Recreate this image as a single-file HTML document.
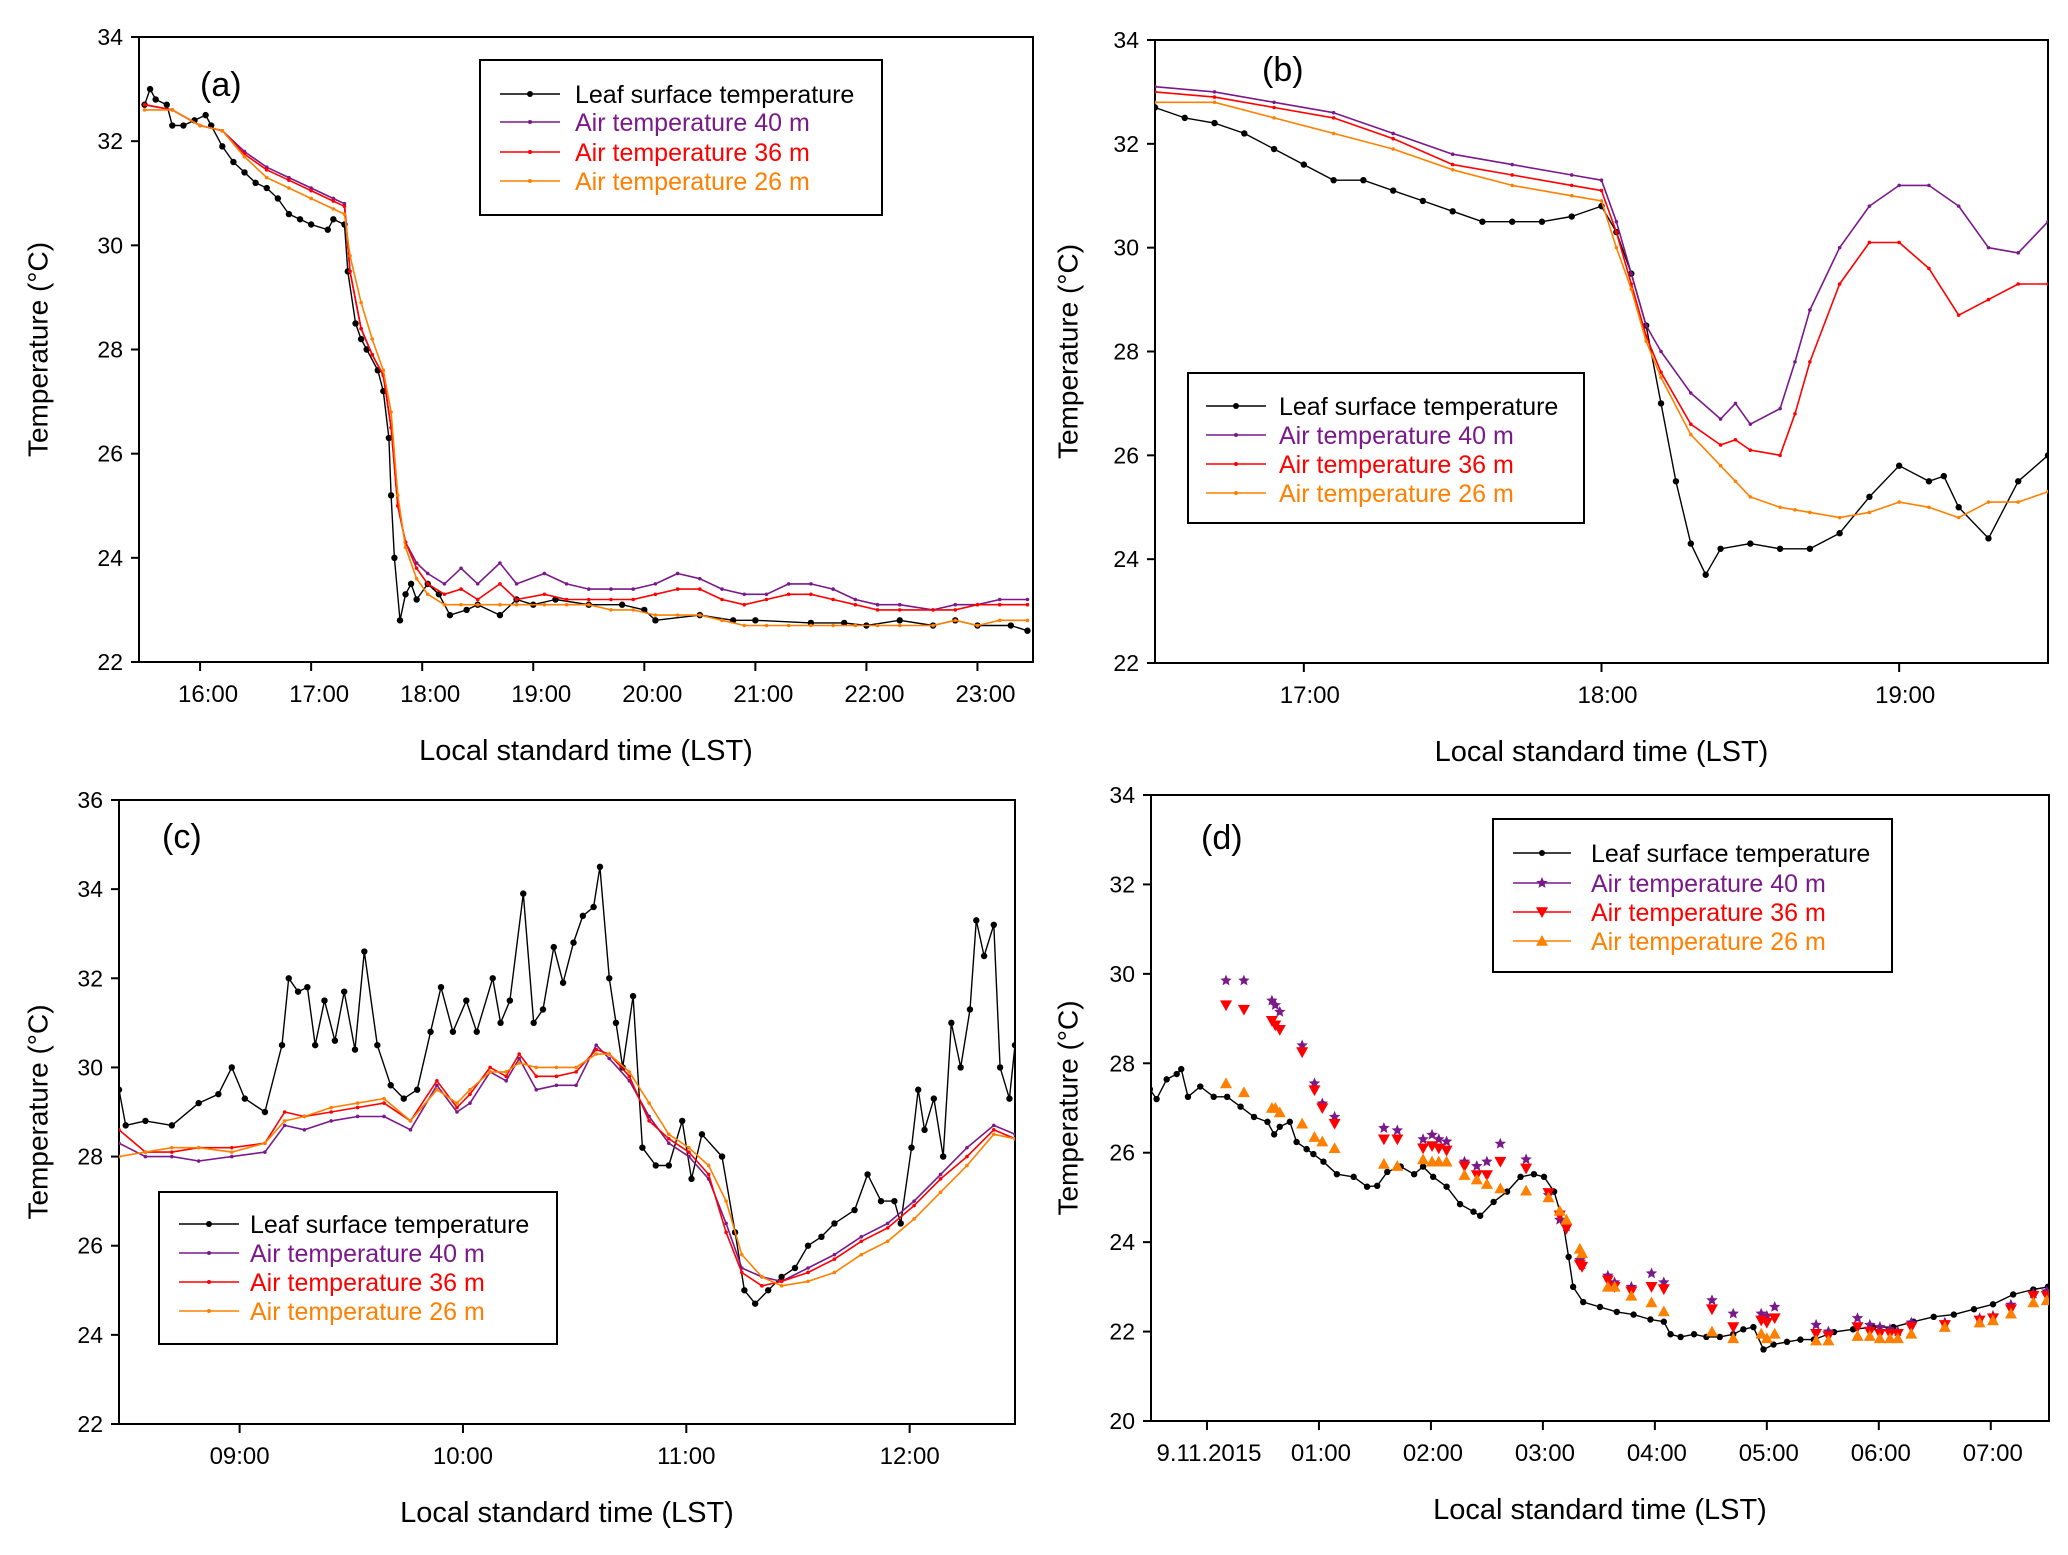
<!DOCTYPE html>
<html><head><meta charset="utf-8"><style>
html,body{margin:0;padding:0;background:#fff;}
svg{display:block;font-family:"Liberation Sans",Arial,sans-serif;}
</style></head><body>
<svg id="fig" width="2068" height="1555" viewBox="0 0 2068 1555" xmlns="http://www.w3.org/2000/svg"></svg>
<script>
// ---------- Panel (a) data (hours) ----------
const aLeafT=[15.5,15.55,15.6,15.7,15.75,15.85,15.95,16.05,16.1,16.2,16.3,16.4,16.5,16.6,16.7,16.8,16.9,17.0,17.15,17.2,17.3,17.33,17.4,17.45,17.5,17.6,17.65,17.7,17.72,17.75,17.8,17.85,17.9,17.95,18.05,18.15,18.25,18.4,18.5,18.7,18.85,19.0,19.2,19.5,19.8,20.0,20.1,20.5,20.8,21.0,21.5,21.8,22.0,22.3,22.6,22.8,23.0,23.3,23.45];
const aLeafV=[32.7,33.0,32.8,32.7,32.3,32.3,32.4,32.5,32.3,31.9,31.6,31.4,31.2,31.1,30.9,30.6,30.5,30.4,30.3,30.5,30.4,29.5,28.5,28.2,28.0,27.6,27.2,26.3,25.2,24.0,22.8,23.3,23.5,23.2,23.5,23.3,22.9,23.0,23.1,22.9,23.2,23.1,23.2,23.1,23.1,23.0,22.8,22.9,22.8,22.8,22.75,22.75,22.7,22.8,22.7,22.8,22.7,22.7,22.6];
const aAirT=[15.5,15.75,16.0,16.2,16.4,16.6,16.8,17.0,17.2,17.3,17.35,17.45,17.55,17.65,17.72,17.78,17.85,17.95,18.05,18.2,18.35,18.5,18.7,18.85,19.1,19.3,19.5,19.7,19.9,20.1,20.3,20.5,20.7,20.9,21.1,21.3,21.5,21.7,21.9,22.1,22.3,22.6,22.8,23.0,23.2,23.45];
const aAir40=[32.7,32.6,32.3,32.2,31.8,31.5,31.3,31.1,30.9,30.8,29.5,28.4,27.9,27.5,26.5,25.0,24.3,23.9,23.7,23.5,23.8,23.5,23.9,23.5,23.7,23.5,23.4,23.4,23.4,23.5,23.7,23.6,23.4,23.3,23.3,23.5,23.5,23.4,23.2,23.1,23.1,23.0,23.1,23.1,23.2,23.2];
const aAir36=[32.7,32.6,32.3,32.2,31.75,31.45,31.25,31.05,30.85,30.75,29.5,28.4,27.9,27.5,26.5,25.0,24.3,23.8,23.5,23.3,23.4,23.2,23.5,23.2,23.3,23.2,23.2,23.2,23.2,23.3,23.4,23.4,23.2,23.1,23.2,23.3,23.3,23.2,23.1,23.0,23.0,23.0,23.0,23.1,23.1,23.1];
const aAir26=[32.6,32.6,32.3,32.2,31.7,31.3,31.1,30.9,30.7,30.6,29.8,28.9,28.2,27.6,26.8,25.2,24.2,23.6,23.3,23.1,23.1,23.1,23.1,23.1,23.1,23.1,23.1,23.0,23.0,22.9,22.9,22.9,22.8,22.7,22.7,22.7,22.7,22.7,22.7,22.7,22.7,22.7,22.8,22.7,22.8,22.8];
const aTicks=["16:00","17:00","18:00","19:00","20:00","21:00","22:00","23:00"];
const aTickPos=[16,17,18,19,20,21,22,23];

// ---------- Panel (b) data (hours) ----------
const bLeafT=[16.5,16.6,16.7,16.8,16.9,17.0,17.1,17.2,17.3,17.4,17.5,17.6,17.7,17.8,17.9,18.0,18.05,18.1,18.15,18.2,18.25,18.3,18.35,18.4,18.5,18.6,18.7,18.8,18.9,19.0,19.1,19.15,19.2,19.3,19.4,19.5];
const bLeafV=[32.7,32.5,32.4,32.2,31.9,31.6,31.3,31.3,31.1,30.9,30.7,30.5,30.5,30.5,30.6,30.8,30.3,29.5,28.5,27.0,25.5,24.3,23.7,24.2,24.3,24.2,24.2,24.5,25.2,25.8,25.5,25.6,25.0,24.4,25.5,26.0];
const bAirT=[16.5,16.7,16.9,17.1,17.3,17.5,17.7,17.9,18.0,18.05,18.1,18.15,18.2,18.3,18.4,18.45,18.5,18.6,18.65,18.7,18.8,18.9,19.0,19.1,19.2,19.3,19.4,19.5];
const bAir40=[33.1,33.0,32.8,32.6,32.2,31.8,31.6,31.4,31.3,30.5,29.5,28.5,28.0,27.2,26.7,27.0,26.6,26.9,27.8,28.8,30.0,30.8,31.2,31.2,30.8,30.0,29.9,30.5];
const bAir36=[33.0,32.9,32.7,32.5,32.1,31.6,31.4,31.2,31.1,30.3,29.3,28.3,27.6,26.6,26.2,26.3,26.1,26.0,26.8,27.8,29.3,30.1,30.1,29.6,28.7,29.0,29.3,29.3];
const bAir26=[32.8,32.8,32.5,32.2,31.9,31.5,31.2,31.0,30.9,30.0,29.2,28.2,27.5,26.4,25.8,25.5,25.2,25.0,24.95,24.9,24.8,24.9,25.1,25.0,24.8,25.1,25.1,25.3];
const bTicks=["17:00","18:00","19:00"];
const bTickPos=[17,18,19];

// ---------- Panel (c) data (minutes after 08:00) ----------
const cLeafT=[27.6,29.4,34.7,41.8,49,54.3,57.9,61.4,66.8,71.4,73.2,75.7,78.2,80.3,82.8,85.6,88.1,91,93.5,97,100.6,104.1,107.7,111.3,114.1,117.3,120.9,123.7,128,130.1,132.6,136.2,139,141.5,144.4,146.9,149.7,152.2,155.1,156.8,159.3,161.1,162.9,165.7,168.2,171.8,175.3,178.9,181.4,184.2,189.6,193.1,195.6,198.5,202,205.6,209.2,212.7,216.3,219.8,225.2,228.7,232.3,235.9,237.6,240.5,242.3,244,246.5,249,251.2,253.7,256.2,257.9,260,262.6,264.3,266.8,268.3];
const cLeafV=[29.5,28.7,28.8,28.7,29.2,29.4,30.0,29.3,29.0,30.5,32.0,31.7,31.8,30.5,31.5,30.6,31.7,30.4,32.6,30.5,29.6,29.3,29.5,30.8,31.8,30.8,31.5,30.8,32.0,31.0,31.5,33.9,31.0,31.3,32.7,31.9,32.8,33.4,33.6,34.5,32.0,31.0,30.0,31.6,28.2,27.8,27.8,28.8,27.5,28.5,28.0,26.3,25.0,24.7,25.0,25.3,25.5,26.0,26.2,26.5,26.8,27.6,27.0,27.0,26.5,28.2,29.5,28.6,29.3,28.0,31.0,30.0,31.3,33.3,32.5,33.2,30.0,29.3,30.5];
const cAirT=[27.6,34.7,41.8,49,57.9,66.8,72.1,77.4,84.6,91.7,98.8,105.9,113,118.4,121.9,127.3,131.6,135.1,139.7,145.1,150.4,155.8,159.3,164.7,170,175.3,180.7,186,190.7,194.9,200.3,205.6,212.7,219.8,227,234.1,241.2,248.3,255.4,262.6,268.3];
const cAir40=[28.3,28.0,28.0,27.9,28.0,28.1,28.7,28.6,28.8,28.9,28.9,28.6,29.6,29.0,29.2,29.9,29.7,30.2,29.5,29.6,29.6,30.5,30.2,29.7,28.9,28.3,28.0,27.5,26.5,25.5,25.3,25.2,25.5,25.8,26.2,26.5,27.0,27.6,28.2,28.7,28.5];
const cAir36=[28.6,28.1,28.1,28.2,28.2,28.3,29.0,28.9,29.0,29.1,29.2,28.8,29.7,29.1,29.4,30.0,29.8,30.3,29.8,29.8,29.9,30.4,30.3,29.8,28.8,28.4,28.1,27.6,26.3,25.4,25.1,25.2,25.4,25.7,26.1,26.4,26.9,27.5,28.0,28.6,28.4];
const cAir26=[28.0,28.1,28.2,28.2,28.1,28.3,28.8,28.9,29.1,29.2,29.3,28.8,29.5,29.2,29.5,29.9,29.9,30.1,30.0,30.0,30.0,30.3,30.3,29.9,29.2,28.5,28.2,27.8,27.0,25.8,25.3,25.1,25.2,25.4,25.8,26.1,26.6,27.2,27.8,28.5,28.4];
const cTicks=["09:00","10:00","11:00","12:00"];
const cTickPos=[60,120,180,240];

// ---------- Panel (d) data (hours after 00:00) ----------
const dLeafT=[-0.51,-0.45,-0.36,-0.27,-0.23,-0.17,-0.06,0.06,0.18,0.30,0.42,0.54,0.60,0.65,0.74,0.80,0.89,0.95,1.04,1.16,1.31,1.43,1.52,1.61,1.73,1.85,1.93,2.02,2.14,2.26,2.38,2.44,2.56,2.68,2.80,2.92,3.01,3.10,3.18,3.23,3.27,3.36,3.51,3.66,3.81,3.96,4.08,4.14,4.23,4.35,4.46,4.58,4.70,4.79,4.88,4.97,5.06,5.18,5.30,5.42,5.60,5.77,5.95,6.13,6.31,6.49,6.67,6.85,7.02,7.20,7.38,7.51];
const dLeafV=[27.42,27.20,27.64,27.76,27.87,27.25,27.48,27.25,27.25,27.03,26.80,26.69,26.41,26.58,26.69,26.24,26.08,25.97,25.80,25.52,25.46,25.24,25.26,25.57,25.69,25.52,25.69,25.46,25.24,24.85,24.68,24.59,24.90,25.13,25.46,25.52,25.46,25.13,24.45,23.67,23.00,22.66,22.55,22.44,22.38,22.27,22.22,21.94,21.88,21.94,21.88,21.88,21.94,22.05,22.10,21.60,21.71,21.77,21.82,21.82,21.99,22.05,22.10,22.10,22.22,22.33,22.38,22.50,22.61,22.83,22.94,23.00];
const dAirT=[0.17,0.33,0.58,0.61,0.65,0.85,0.96,1.03,1.14,1.58,1.70,1.93,2.01,2.07,2.14,2.30,2.41,2.50,2.62,2.85,3.05,3.15,3.21,3.33,3.35,3.58,3.64,3.79,3.97,4.08,4.51,4.70,4.95,5.00,5.07,5.44,5.55,5.81,5.92,6.01,6.10,6.17,6.29,6.59,6.90,7.02,7.18,7.38,7.50];
const dAir40=[29.85,29.85,29.4,29.3,29.15,28.4,27.55,27.1,26.8,26.55,26.5,26.3,26.4,26.3,26.25,25.8,25.7,25.8,26.2,25.85,25.05,24.5,24.35,23.6,23.5,23.25,23.1,23.0,23.3,23.1,22.7,22.4,22.4,22.35,22.55,22.15,22.0,22.3,22.15,22.1,22.05,22.0,22.2,22.2,22.3,22.35,22.6,22.85,22.9];
const dAir36=[29.3,29.2,28.95,28.85,28.75,28.25,27.4,27.0,26.65,26.3,26.3,26.1,26.15,26.1,26.05,25.7,25.5,25.5,25.8,25.65,25.1,24.6,24.3,23.5,23.45,23.15,23.0,22.9,23.0,22.95,22.5,22.1,22.25,22.2,22.3,21.95,21.9,22.1,22.0,21.95,21.95,21.95,22.1,22.15,22.25,22.3,22.5,22.8,22.8];
const dAir26=[27.55,27.35,27.0,27.0,26.9,26.65,26.35,26.25,26.1,25.75,25.7,25.85,25.8,25.8,25.8,25.5,25.4,25.3,25.2,25.15,25.0,24.7,24.5,23.85,23.75,23.0,23.0,22.8,22.65,22.45,22.0,21.85,21.95,21.85,21.95,21.8,21.8,21.9,21.9,21.85,21.85,21.85,21.95,22.1,22.2,22.25,22.4,22.65,22.7];
const dTicks=["9.11.2015","01:00","02:00","03:00","04:00","05:00","06:00","07:00"];
const dTickPos=[0,1,2,3,4,5,6,7];

const NS="http://www.w3.org/2000/svg";
const svg=document.getElementById('fig');
const C={leaf:"#000000",a40:"#7a1a8a",a36:"#ff0000",a26:"#ff8000"};
function el(tag,attrs,parent){const e=document.createElementNS(NS,tag);for(const k in attrs)e.setAttribute(k,attrs[k]);(parent||svg).appendChild(e);return e;}
function txt(s,attrs,parent){const e=el('text',attrs,parent);e.textContent=s;return e;}

function marker(g,kind,x,y,color,r){
  let m;
  if(kind==='dot'){m=el('circle',{cx:x,cy:y,r:r,fill:color},g);}
  else if(kind==='star'){
    let p=[];for(let i=0;i<10;i++){const a=-Math.PI/2+i*Math.PI/5;const rr=i%2?r*0.45:r;p.push((x+rr*Math.cos(a)).toFixed(1)+','+(y+rr*Math.sin(a)).toFixed(1));}
    m=el('polygon',{points:p.join(' '),fill:color},g);}
  else if(kind==='down'){m=el('polygon',{points:`${x-r},${y-r*0.8} ${x+r},${y-r*0.8} ${x},${y+r}`,fill:color},g);}
  else {m=el('polygon',{points:`${x-r},${y+r*0.8} ${x+r},${y+r*0.8} ${x},${y-r}`,fill:color},g);}
  
  
}

function panel(cfg){
  const g=el('g',{});
  
  
  const X=v=>cfg.x0+(v-cfg.xmin)/(cfg.xmax-cfg.xmin)*(cfg.x1-cfg.x0);
  const Y=v=>cfg.y1-(v-cfg.ymin)/(cfg.ymax-cfg.ymin)*(cfg.y1-cfg.y0);
  const frame=el('rect',{x:cfg.x0,y:cfg.y0,width:cfg.x1-cfg.x0,height:cfg.y1-cfg.y0,fill:'none',stroke:'#000','stroke-width':2},g);
  
  for(let v=cfg.ymin;v<=cfg.ymax;v+=2){
    const t=el('line',{x1:cfg.x0-8,x2:cfg.x0,y1:Y(v),y2:Y(v),stroke:'#000','stroke-width':2},g);
    
    const l=txt(String(v),{x:cfg.x0-16,y:Y(v)+8,'font-size':23,'text-anchor':'end'},g);
    
  }
  cfg.tickPos.forEach((p,i)=>{
    const t=el('line',{x1:X(p),x2:X(p),y1:cfg.y1,y2:cfg.y1+9,stroke:'#000','stroke-width':2},g);
    
    const l=txt(cfg.ticks[i],{x:X(p)+cfg.tOff,y:cfg.y1+40,'font-size':24,'text-anchor':'middle'},g);
    
  });
  const xt=txt('Local standard time (LST)',{x:(cfg.x0+cfg.x1)/2,y:cfg.y1+98,'font-size':29,'text-anchor':'middle'},g);
  
  const yx=cfg.ytx, yy=(cfg.y0+cfg.y1)/2;
  const yt=txt('Temperature (°C)',{x:yx,y:yy,'font-size':28,'text-anchor':'middle','dominant-baseline':'central',transform:`rotate(-90 ${yx} ${yy})`},g);
  
  const pl=txt('('+cfg.id+')',{x:cfg.lab[0],y:cfg.lab[1],'font-size':34},g);
  

  const clipId='clip'+cfg.id;
  const cp=el('clipPath',{id:clipId},g);el('rect',{x:cfg.x0,y:cfg.y0,width:cfg.x1-cfg.x0,height:cfg.y1-cfg.y0},cp);
  const sg=el('g',{'clip-path':`url(#${clipId})`},g);
  

  cfg.series.forEach(s=>{
    const sgg=el('g',{},sg);
    
    
    const n=Math.min(s.t.length,s.v.length);
    if(s.line){
      let d='';for(let i=0;i<n;i++)d+=(i?'L':'M')+X(s.t[i]).toFixed(1)+','+Y(s.v[i]).toFixed(1);
      const p=el('path',{d:d,fill:'none',stroke:s.color,'stroke-width':s.w||1.6,'stroke-linejoin':'round'},sgg);
      
    }
    for(let i=0;i<n;i++)marker(sgg,s.mk,X(s.t[i]),Y(s.v[i]),s.color,s.r);
  });

  const L=cfg.leg;
  const lg=el('g',{},g);
  
  el('rect',{x:L.x,y:L.y,width:L.w,height:L.h,fill:'#fff',stroke:'#000','stroke-width':2},lg);
  cfg.series.forEach((s,i)=>{
    const ey=L.ey[i];
    const e=el('g',{},lg);
    
    el('line',{x1:L.lx0,x2:L.lx1,y1:ey,y2:ey,stroke:s.color,'stroke-width':1.6},e);
    marker(e,s.mk,(L.lx0+L.lx1)/2,ey,s.color,s.mk==='dot'?(s.name==='leaf'?3:2):6);
    txt(s.label,{x:L.tx,y:ey+9,'font-size':25,fill:s.color},e);
  });
}

const labels=["Leaf surface temperature","Air temperature 40 m","Air temperature 36 m","Air temperature 26 m"];
function ser(lt,lv,at,a40,a36,a26,mks,lines){
  return [
    {name:'leaf',t:lt,v:lv,color:C.leaf,mk:'dot',r:3.2,line:true,w:1.4,label:labels[0]},
    {name:'air-40m',t:at,v:a40,color:C.a40,mk:mks[1],r:mks[1]==='dot'?1.8:6,line:lines,label:labels[1]},
    {name:'air-36m',t:at,v:a36,color:C.a36,mk:mks[2],r:mks[2]==='dot'?1.8:6,line:lines,label:labels[2]},
    {name:'air-26m',t:at,v:a26,color:C.a26,mk:mks[3],r:mks[3]==='dot'?1.8:6,line:lines,label:labels[3]}];
}
panel({id:'a',x0:139,x1:1033,y0:37,y1:662,xmin:15.45,xmax:23.5,ymin:22,ymax:34,ticks:aTicks,tickPos:aTickPos,lab:[200,96],tOff:8,ytx:38,
  series:ser(aLeafT,aLeafV,aAirT,aAir40,aAir36,aAir26,['dot','dot','dot','dot'],true),
  leg:{x:480,y:60,w:402,h:155,ey:[94,122,152,181],lx0:500,lx1:560,tx:575}});
panel({id:'b',x0:1155,x1:2048,y0:40,y1:663,xmin:16.5,xmax:19.5,ymin:22,ymax:34,ticks:bTicks,tickPos:bTickPos,lab:[1262,81],tOff:6,ytx:1068,
  series:ser(bLeafT,bLeafV,bAirT,bAir40,bAir36,bAir26,['dot','dot','dot','dot'],true),
  leg:{x:1188,y:373,w:396,h:150,ey:[406,435,464,493],lx0:1206,lx1:1266,tx:1279}});
panel({id:'c',x0:119,x1:1015,y0:800,y1:1424,xmin:27.6,xmax:268.3,ymin:22,ymax:36,ticks:cTicks,tickPos:cTickPos,lab:[162,848],tOff:0,ytx:38,
  series:ser(cLeafT,cLeafV,cAirT,cAir40,cAir36,cAir26,['dot','dot','dot','dot'],true),
  leg:{x:159,y:1192,w:398,h:152,ey:[1224,1253,1282,1311],lx0:179,lx1:239,tx:250}});
panel({id:'d',x0:1151,x1:2049,y0:795,y1:1421,xmin:-0.5,xmax:7.52,ymin:20,ymax:34,ticks:dTicks,tickPos:dTickPos,lab:[1201,849],tOff:2,ytx:1068,
  series:ser(dLeafT,dLeafV,dAirT,dAir40,dAir36,dAir26,['dot','star','down','up'],false),
  leg:{x:1493,y:819,w:399,h:153,ey:[853,883,912,941],lx0:1513,lx1:1571,tx:1591}});
</script>
</body></html>
